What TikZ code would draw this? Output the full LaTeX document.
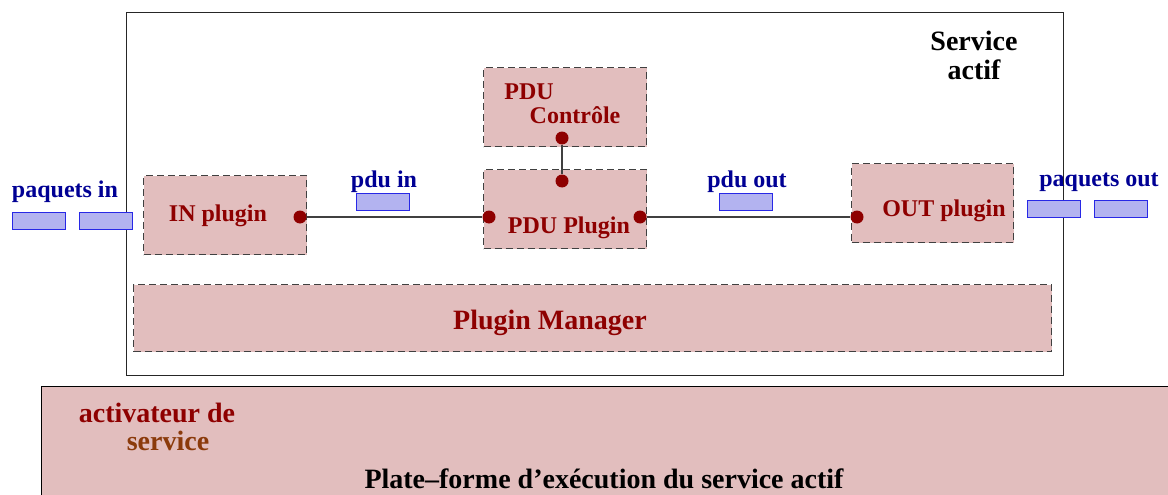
\documentclass[tikz,border=0pt]{standalone}
\usepackage{fontspec}
\setmainfont{Liberation Serif}
\definecolor{boxfill}{HTML}{E2BEBE}
\definecolor{dred}{HTML}{8E0000}
\definecolor{navy}{HTML}{000094}
\definecolor{brn}{HTML}{8B3A0B}
\definecolor{pktfill}{HTML}{B3B3F0}
\definecolor{pktline}{HTML}{2828E6}
\definecolor{dgray}{HTML}{404040}
\begin{document}
\begin{tikzpicture}[x=1pt,y=-1pt,
  box/.style={draw=dgray,fill=boxfill,line width=1.2pt,dash pattern=on 7pt off 4pt,inner sep=0pt},
  big/.style={font=\fontsize{28}{30}\selectfont\bfseries},
  mid/.style={font=\fontsize{24}{26}\selectfont\bfseries},
  lbl/.style={mid,text=dred,inner sep=0pt},
  pkt/.style={draw=pktline,fill=pktfill,line width=1.4pt,minimum width=53pt,minimum height=17pt,inner sep=0pt},
  plabel/.style={mid,text=navy,inner sep=0pt},
  dot/.style={circle,fill=dred,minimum size=13pt,inner sep=0pt},
  wire/.style={draw=dgray,line width=1.1pt}]
\useasboundingbox (0,0) rectangle (1168,495);
\begin{scope}
\clip (0,0) rectangle (1168,495);
% platform
\node[draw=black,fill=boxfill,line width=1.2pt,minimum width=1140pt,minimum height=120pt,anchor=north west,inner sep=0pt] (plat) at (41,386) {};
\node[big,text=dred,inner sep=0pt] (act1) at (157,413) {activateur de};
\node[big,text=brn,inner sep=0pt] (act2) at (168,441) {service};
\node[big,text=black,inner sep=0pt] (platt) at (604,479) {Plate–forme d’exécution du service actif};
% service actif
\node[draw=black!85,line width=1.1pt,minimum width=937pt,minimum height=363pt,anchor=north west,inner sep=0pt] (serv) at (126,12) {};
\node[big,align=center,inner sep=0pt,font=\fontsize{28}{29}\selectfont\bfseries] (servt) at (974,55) {Service\\actif};
% plugin manager
\node[box,minimum width=918pt,minimum height=67pt,anchor=north west] (pm) at (133,284) {};
\node[big,text=dred,inner sep=0pt] (pmt) at (550,323) {Plugin Manager};
% boxes
\node[box,minimum width=163pt,minimum height=79pt,anchor=north west] (pduc) at (483,67) {};
\node[lbl] (pduct1) at (529,92) {PDU};
\node[lbl] (pduct2) at (575,115) {Contrôle};
\node[box,minimum width=163pt,minimum height=79pt,anchor=north west] (pdup) at (483,169) {};
\node[lbl] (pdupt) at (569,228) {PDU Plugin};
\node[box,minimum width=163pt,minimum height=79pt,anchor=north west] (inp) at (143,175) {};
\node[lbl] (inpt) at (218,216) {IN plugin};
\node[box,minimum width=162pt,minimum height=79pt,anchor=north west] (outp) at (851,163) {};
\node[lbl] (outpt) at (944,211) {OUT plugin};
% dots
\node[dot] (d1) at (562,138) {};
\node[dot] (d2) at (562,181) {};
\node[dot] (d3) at (489,217) {};
\node[dot] (d4) at (640,217) {};
\node[dot] (d5) at (300,217) {};
\node[dot] (d6) at (857,217) {};
\draw[wire] (d1) -- (d2);
\draw[wire] (d5) -- (d3);
\draw[wire] (d4) -- (d6);
% packet labels
\node[plabel] (pin) at (65,192) {paquets in};
\node[pkt,anchor=north west] (pin1) at (12,212) {};
\node[pkt,anchor=north west] (pin2) at (79,212) {};
\node[plabel] (pduin) at (384,182) {pdu in};
\node[pkt,anchor=north west] (pduinr) at (356,193) {};
\node[plabel] (pduout) at (747,182) {pdu out};
\node[pkt,anchor=north west] (pduoutr) at (719,193) {};
\node[plabel] (pout) at (1099,182) {paquets out};
\node[pkt,anchor=north west] (pout1) at (1027,200) {};
\node[pkt,anchor=north west] (pout2) at (1094,200) {};
\end{scope}
\end{tikzpicture}
\end{document}
